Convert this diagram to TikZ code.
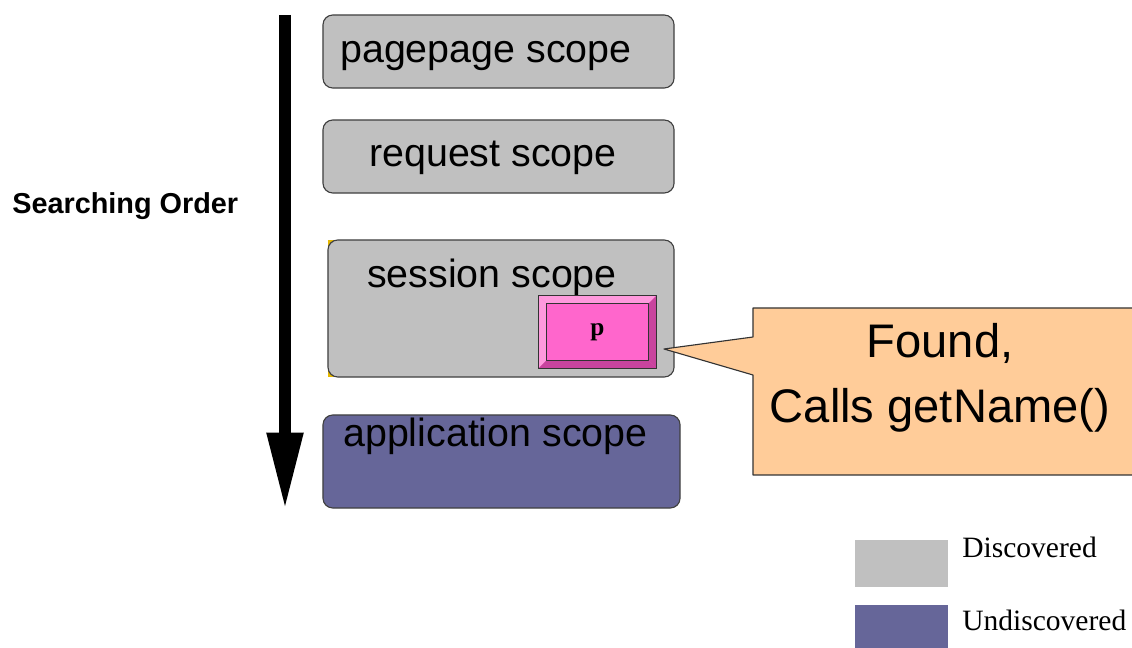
\documentclass[tikz,border=0pt]{standalone}
\usepackage{fontspec}
\setmainfont{Liberation Serif}
\setsansfont{Liberation Sans}
\usepackage{xcolor}
\usepackage{tikz}
\usetikzlibrary{arrows.meta}
\definecolor{scopegray}{HTML}{C0C0C0}
\definecolor{scopeblue}{HTML}{666699}
\definecolor{beanpink}{HTML}{FF66CC}
\definecolor{beanlight}{HTML}{FF99DD}
\definecolor{beandark}{HTML}{C8449E}
\definecolor{notepeach}{HTML}{FFCC99}
\definecolor{cornergold}{HTML}{E6B800}

\begin{document}
\begin{tikzpicture}[x=0.025cm,y=-0.025cm,line join=round,
  scopebox/.style={draw=black!75,line width=0.8pt,rounded corners=7pt,inner sep=0pt},
  scopetext/.style={font=\sffamily\fontsize{28}{32}\selectfont,inner sep=0pt,anchor=base west},
  legendbox/.style={inner sep=0pt,minimum width=2.325cm},
  legendtext/.style={font=\fontsize{21}{25}\selectfont,inner sep=0pt,anchor=base west}]
  \useasboundingbox (0,0) rectangle (1132,648);
  \coordinate (top) at (285,15);
  \coordinate (bot) at (285,510);
  \coordinate (tip) at (664,349);
  \draw[line width=8.5pt,-{Triangle[length=55pt,width=24pt]}] (top) -- (bot);
  \node[font=\sffamily\bfseries\fontsize{20.5}{24}\selectfont,anchor=base west,inner sep=0pt] (order) at (12,214) {Searching Order};
  \node[scopebox,fill=scopegray,minimum width=8.775cm,minimum height=1.825cm] (page) at (498.5,51.5) {};
  \node[scopebox,fill=scopegray,minimum width=8.775cm,minimum height=1.825cm] (request) at (498.5,156.5) {};
  \fill[cornergold] (328,240) rectangle (345,377);
  \node[scopebox,fill=scopegray,minimum width=8.65cm,minimum height=3.425cm] (session) at (501,308.5) {};
  \node[scopebox,fill=scopeblue,minimum width=8.925cm,minimum height=2.325cm] (application) at (501.5,461.5) {};
  \node[scopetext] (pagetext) at (340,63) {pagepage scope};
  \node[scopetext] (requesttext) at (369,167) {request scope};
  \node[scopetext] (sessiontext) at (367,288) {session scope};
  \node[scopetext] (applicationtext) at (343,447) {application scope};
  \node[draw=black!80,line width=0.7pt,fill=beanpink,minimum width=2.925cm,minimum height=1.8cm,inner sep=0pt] (pbox) at (597.5,332) {};
  \node[minimum width=2.525cm,minimum height=1.4cm,inner sep=0pt] (pin) at (597.5,332) {};
  \fill[beanlight] (pbox.north west) -- (pbox.north east) -- (pin.north east) -- (pin.north west) -- cycle;
  \fill[beanlight] (pbox.north west) -- (pin.north west) -- (pin.south west) -- (pbox.south west) -- cycle;
  \fill[beandark] (pbox.north east) -- (pbox.south east) -- (pin.south east) -- (pin.north east) -- cycle;
  \fill[beandark] (pbox.south west) -- (pin.south west) -- (pin.south east) -- (pbox.south east) -- cycle;
  \draw[black!80,line width=0.6pt] (pbox.north west) rectangle (pbox.south east);
  \draw[black!80,line width=0.6pt,fill=beanpink] (pin.north west) rectangle (pin.south east);
  \node[font=\bfseries\fontsize{18}{20}\selectfont,inner sep=0pt] (ptext) at (pin.center) {p};
  \draw[fill=notepeach,draw=black!80,line width=0.8pt] (753,308) -- (1140,308) -- (1140,475) -- (753,475) -- (753,375) -- (tip) -- (753,337) -- cycle;
  \node[font=\sffamily\fontsize{33.5}{46}\selectfont,align=center,inner sep=0pt] (found) at (940,377.5) {Found,\\Calls getName()};
  \node[legendbox,fill=scopegray,minimum height=1.175cm] (disc) at (901.5,563.5) {};
  \node[legendbox,fill=scopeblue,minimum height=1.25cm] (undisc) at (901.5,630) {};
  \node[legendtext] (disctext) at (962,558) {Discovered};
  \node[legendtext] (undisctext) at (962,630) {Undiscovered};
\end{tikzpicture}
\end{document}
